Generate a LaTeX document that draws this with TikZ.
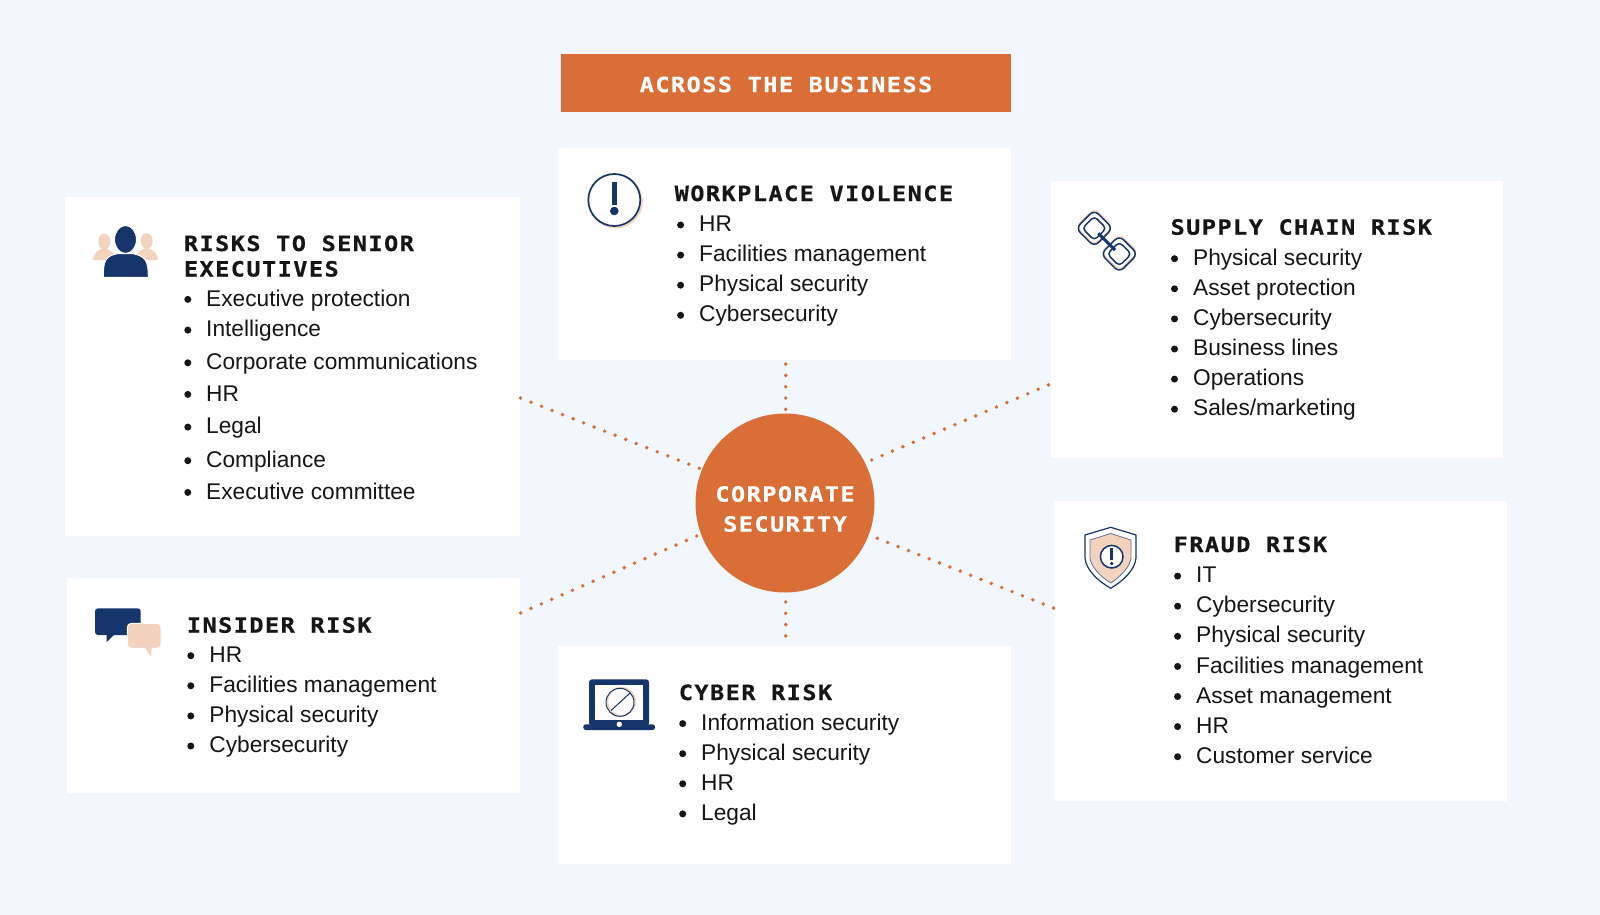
\documentclass[tikz,border=0pt]{standalone}
\usepackage{fontspec}
\setmainfont{Liberation Sans}
\newfontfamily\headfont[FakeStretch=1.12,LetterSpace=7,BoldFeatures={FakeBold=0.5}]{DejaVu Sans Mono}
\definecolor{pagebg}{HTML}{F2F7FE}
\definecolor{corange}{HTML}{D96F36}
\definecolor{cnavy}{HTML}{16356B}
\definecolor{cpeach}{HTML}{F3D3BE}
\definecolor{cink}{HTML}{161616}
\tikzset{
    panel/.style={fill=white,inner sep=0pt},
    banner/.style={fill=corange,inner sep=0pt},
    bannertext/.style={inner sep=0pt,text=white,font=\headfont\bfseries\fontsize{21}{30}\selectfont,align=center},
    headtext/.style={anchor=base west,inner sep=0pt,text=cink,font=\headfont\bfseries\fontsize{21}{25.5}\selectfont},
    itemtext/.style={anchor=base west,inner sep=0pt,text=cink,font=\fontsize{22.7}{26}\selectfont},
    itemdot/.style={circle,fill=cink,inner sep=0pt,minimum size=7pt},
    dotline/.style={corange,line width=3.9pt,line cap=round,dash pattern=on 0pt off 11.3pt},
    navyline/.style={cnavy,line width=1.5pt}
}
\begin{document}
\begin{tikzpicture}[x=1pt,y=-1pt]
    \fill[pagebg] (0,0) rectangle (1600,915);
    \useasboundingbox (0,0) rectangle (1600,915);

    % panels
    \node[banner,minimum width=450pt,minimum height=58pt] (across) at (786,83) {};
    \node[bannertext] (acrosstext) at (786,84.5) {ACROSS THE BUSINESS};
    \node[panel,minimum width=453pt,minimum height=212pt] (workplace) at (784.5,254) {};
    \node[panel,minimum width=455pt,minimum height=339pt] (senior) at (292,366.5) {};
    \node[panel,minimum width=452pt,minimum height=277pt] (supply) at (1277,319.5) {};
    \node[panel,minimum width=453pt,minimum height=300pt] (fraud) at (1280.5,651) {};
    \node[panel,minimum width=453pt,minimum height=215pt] (insider) at (293,685.5) {};
    \node[panel,minimum width=453pt,minimum height=218pt] (cyber) at (784.5,755) {};
    \node[banner,circle,minimum size=179pt] (core) at (785,503) {};
    \node[bannertext] (coretext) at (785,509) {CORPORATE\\SECURITY};

    % free ends of the dotted lines
    \coordinate (wpend) at (785.7,363);
    \coordinate (cyend) at (785.7,640);
    \coordinate (seend) at (520.4,398);
    \coordinate (suend) at (1049,384.7);
    \coordinate (frend) at (1054,608.2);
    \coordinate (inend) at (520.4,613);
    \coordinate (wpcore) at (785.7,409.3);
    \coordinate (cycore) at (785.7,602);
    \coordinate (secore) at (699.3,468.3);
    \coordinate (sucore) at (871.7,460);
    \coordinate (frcore) at (877.3,538.3);
    \coordinate (incore) at (696.7,536);

    \draw[dotline] (wpcore) -- (wpend);
    \draw[dotline] (cycore) -- (cyend);
    \draw[dotline] (secore) -- (seend);
    \draw[dotline] (sucore) -- (suend);
    \draw[dotline,dash pattern=on 0pt off 11.15pt] (frcore) -- (frend);
    \draw[dotline] (incore) -- (inend);

    % workplace violence
    \node[headtext] (wphead) at (674.5,201) {WORKPLACE VIOLENCE};
    \foreach \itemlabel [count=\i] in {HR,Facilities management,Physical security,Cybersecurity} {
        \node[itemdot] (wpdot\i) at (680.6,{225+30.1*(\i-1)}) {};
        \node[itemtext] (wpitem\i) at (699,{231.6+30.1*(\i-1)}) {\itemlabel};
    }

    % risks to senior executives
    \node[headtext] (sehead) at (183.7,251) {RISKS TO SENIOR};
    \node[headtext] (sehead2) at (183.7,276.5) {EXECUTIVES};
    \foreach \ypos/\itemlabel [count=\i] in {306/Executive protection,336.7/Intelligence,369.4/Corporate communications,401/HR,433.7/Legal,467.3/Compliance,499/Executive committee} {
        \node[itemdot] (sedot\i) at (187.8,\ypos-6.6) {};
        \node[itemtext] (seitem\i) at (206,\ypos) {\itemlabel};
    }

    % supply chain risk
    \node[headtext] (suhead) at (1170.4,234.7) {SUPPLY CHAIN RISK};
    \foreach \itemlabel [count=\i] in {Physical security,Asset protection,Cybersecurity,Business lines,Operations,Sales/marketing} {
        \node[itemdot] (sudot\i) at (1174.5,{258.7+30.1*(\i-1)}) {};
        \node[itemtext] (suitem\i) at (1192.9,{265.3+30.1*(\i-1)}) {\itemlabel};
    }

    % fraud risk
    \node[headtext] (frhead) at (1173.5,552) {FRAUD RISK};
    \foreach \itemlabel [count=\i] in {IT,Cybersecurity,Physical security,Facilities management,Asset management,HR,Customer service} {
        \node[itemdot] (frdot\i) at (1177.6,{576.1+30.1*(\i-1)}) {};
        \node[itemtext] (fritem\i) at (1196,{582.7+30.1*(\i-1)}) {\itemlabel};
    }

    % insider risk
    \node[headtext] (inhead) at (186.7,632.7) {INSIDER RISK};
    \foreach \itemlabel [count=\i] in {HR,Facilities management,Physical security,Cybersecurity} {
        \node[itemdot] (indot\i) at (190.8,{655.7+30.1*(\i-1)}) {};
        \node[itemtext] (initem\i) at (209.2,{662.3+30.1*(\i-1)}) {\itemlabel};
    }

    % cyber risk
    \node[headtext] (cyhead) at (678.6,700) {CYBER RISK};
    \foreach \itemlabel [count=\i] in {Information security,Physical security,HR,Legal} {
        \node[itemdot] (cydot\i) at (682.7,{723.6+30.1*(\i-1)}) {};
        \node[itemtext] (cyitem\i) at (701,{730.2+30.1*(\i-1)}) {\itemlabel};
    }

    % people icon
    \fill[cpeach] (104.3,241.5) ellipse (6 and 8);
    \fill[cpeach] (93,260) .. controls (94,252) and (98,250) .. (104,248) .. controls (110,250) and (115,252) .. (116,260) -- cycle;
    \fill[cpeach] (146.7,241) ellipse (6 and 8);
    \fill[cpeach] (135,260) .. controls (136,252) and (140,250) .. (147,248) .. controls (153,250) and (157,252) .. (158,260) -- cycle;
    \draw[fill=cnavy,draw=white,line width=1pt] (103.3,277.3) .. controls (103.3,261) and (105,256) .. (118,253.5) -- (132,253.5) .. controls (146,256) and (148.3,261) .. (148.3,277.3) -- cycle;
    \draw[fill=cnavy,draw=white,line width=1pt] (125.5,239.5) ellipse (11 and 14);

    % alert icon
    \draw[cpeach,line width=2pt] (615.8,201.5) circle (26);
    \draw[navyline,line width=1.7pt,fill=white] (614.3,200) circle (26);
    \fill[cnavy] (611.6,182) rectangle (617.2,205);
    \fill[cnavy] (614.3,211) circle (4.3);

    % chain icon
    \foreach \xpos/\ypos in {1094.3/228.3,1119.3/254} {
        \begin{scope}[shift={(\xpos,\ypos)},rotate=45]
            \draw[cpeach,line width=1.3pt,rounded corners=6pt] (-11.5,-14) rectangle (14.5,12);
            \draw[navyline,rounded corners=6pt] (-13,-13) rectangle (13,13);
            \draw[navyline,rounded corners=4pt] (-8.5,-8.5) rectangle (8.5,8.5);
        \end{scope}
    }
    \draw[cnavy,line width=3pt] (1098.3,233.3) -- (1115,250);

    % shield icon
    \draw[navyline,line width=1.2pt,fill=white,line join=round] (1110.7,527.3) -- (1136,535) -- (1136,558) .. controls (1135,570) and (1123,581) .. (1110.7,588.3) .. controls (1098,581) and (1086,570) .. (1085,558) -- (1085,535) -- cycle;
    \draw[cnavy!70,line width=0.8pt,fill=cpeach,line join=round] (1110.7,533.5) -- (1131,540) -- (1131,558) .. controls (1130,567) and (1120,577) .. (1110.7,583) .. controls (1101,577) and (1091,567) .. (1090,558) -- (1090,540) -- cycle;
    \draw[navyline,fill=white] (1111.7,556.7) circle (11.3);
    \fill[cnavy] (1110.3,548) rectangle (1113.1,560);
    \fill[cnavy] (1111.7,563.5) circle (1.9);

    % chat icon
    \fill[cnavy,rounded corners=3pt] (95,608.3) rectangle (140.7,635);
    \fill[cnavy] (106.7,634) -- (106.7,642) -- (115,634) -- cycle;
    \fill[cpeach,draw=white,line width=1pt,rounded corners=4pt] (127.3,623.3) rectangle (161,648.3);
    \fill[cpeach] (145,647.8) -- (151,656.7) -- (151.7,647.8) -- cycle;

    % laptop icon
    \fill[cnavy,rounded corners=3pt] (589,679.3) -- (649,679.3) -- (649,726) -- (589,726) -- cycle;
    \fill[white] (595,685) rectangle (643.3,720);
    \fill[cnavy,rounded corners=2.5pt] (583.3,724.3) -- (655,724.3) -- (655,730) -- (583.3,730) -- cycle;
    \fill[white] (619.3,724.3) circle (2.7);
    \draw[cpeach,line width=1.5pt] (621.5,701.7) circle (14);
    \draw[cnavy,line width=1pt] (620,702.3) circle (14);
    \draw[cnavy,line width=1pt] (611,710.5) -- (630,693);
\end{tikzpicture}
\end{document}
